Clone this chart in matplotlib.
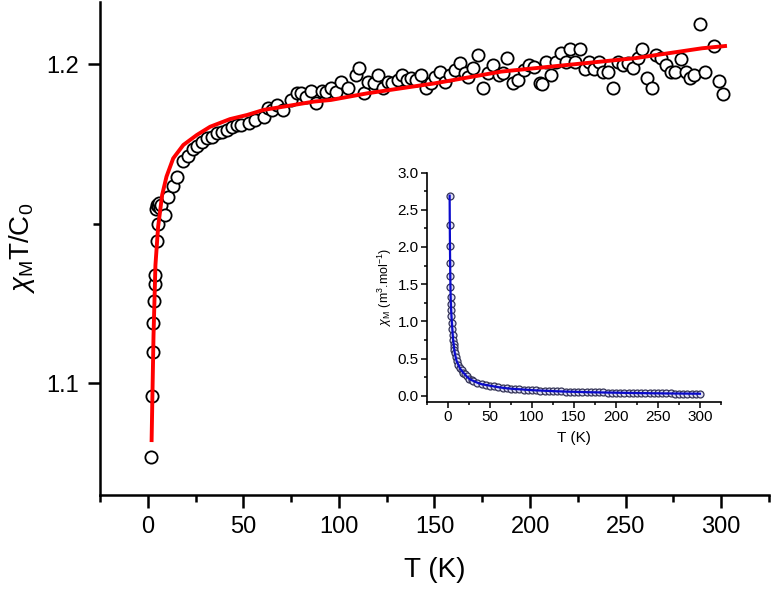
import numpy as np
import matplotlib.pyplot as plt
from matplotlib.ticker import MultipleLocator

plt.rcParams['font.family'] = ['Liberation Sans', 'DejaVu Sans']
plt.rcParams['mathtext.fontset'] = 'custom'
plt.rcParams['mathtext.rm'] = 'Liberation Sans'
plt.rcParams['mathtext.it'] = 'Liberation Sans:italic'

# main panel: chi_M T / C0 measured points
T_data = [1.6, 2.3, 2.6, 2.8, 3.1, 3.7, 3.9, 4.6, 5.4, 4.3, 4.8, 5.3, 5.9, 6.4, 7.0,
          9.0, 10.5, 13.3, 15.4, 18.6, 21.2, 23.5, 25.6, 28.3, 30.9, 33.5, 36.0,
          38.8, 41.4, 44.0, 46.7, 49.0, 52.8, 56.3, 60.7, 62.8, 65.0, 67.7, 71.0,
          74.7, 77.9, 80.0, 82.6, 85.3, 88.0, 91.4, 93.0, 95.8, 98.4, 101.0, 104.6,
          109.0, 110.7, 113.3, 115.0, 118.6, 120.4, 123.0, 125.6, 128.0, 130.9,
          133.0, 135.5, 137.9, 140.5, 143.0, 145.8, 148.4, 150.2, 152.8, 155.4,
          158.0, 160.7, 163.3, 165.9, 167.7, 170.4, 173.0, 175.6, 178.0, 180.8,
          183.5, 186.0, 188.0, 191.0, 193.9, 196.7, 199.3, 202.0, 205.4, 206.0,
          208.4, 211.0, 213.7, 216.0, 218.6, 220.9, 223.5, 226.2, 228.6, 231.0,
          233.5, 236.0, 238.4, 241.0, 243.5, 246.2, 248.4, 251.0, 253.7, 256.3,
          258.6, 261.2, 263.7, 266.0, 268.6, 271.0, 273.5, 276.0, 278.8, 281.4,
          283.5, 286.0, 288.8, 291.4, 296.2, 298.8, 300.8]
chiT_data = [1.0768, 1.0960, 1.1099, 1.1188, 1.1259, 1.1310, 1.1340, 1.1447, 1.1500,
             1.1545, 1.1560, 1.1555, 1.1565, 1.1550, 1.1560,
             1.1528, 1.1585, 1.1619, 1.1648, 1.1697, 1.1713, 1.1733, 1.1744, 1.1757,
             1.1768, 1.1773, 1.1784, 1.1789, 1.1794, 1.1803, 1.1810, 1.1810, 1.1817,
             1.1825, 1.1836, 1.1862, 1.1857, 1.1872, 1.1857, 1.1888, 1.1909, 1.1909,
             1.1898, 1.1917, 1.1878, 1.1917, 1.1914, 1.1925, 1.1914, 1.1945, 1.1925,
             1.1966, 1.1987, 1.1909, 1.1945, 1.1940, 1.1966, 1.1925, 1.1945, 1.1940,
             1.1951, 1.1966, 1.1951, 1.1956, 1.1951, 1.1966, 1.1925, 1.1940, 1.1961,
             1.1977, 1.1945, 1.1966, 1.1982, 1.2003, 1.1972, 1.1961, 1.1987, 1.2029,
             1.1925, 1.1972, 1.1998, 1.1966, 1.1972, 1.2019, 1.1940, 1.1951, 1.1982,
             1.1998, 1.1992, 1.1940, 1.1938, 1.2008, 1.1966, 1.2008, 1.2036, 1.2008,
             1.2047, 1.2008, 1.2047, 1.1984, 1.2008, 1.1984, 1.2008, 1.1977, 1.1977,
             1.1927, 1.2008, 1.1998, 1.2003, 1.1987, 1.2019, 1.2047, 1.1956, 1.1927,
             1.2029, 1.2019, 1.1998, 1.1977, 1.1977, 1.2016, 1.1977, 1.1956, 1.1966,
             1.2126, 1.1977, 1.2057, 1.1948, 1.1907]

# main panel: fit curve
T_fit = [2.0, 3.0, 4.0, 5.4, 7.5, 9.8, 13.3, 18.6, 25.6, 32.6, 43.0, 52.0, 60.7,
         71.0, 87.0, 95.8, 115.0, 150.0, 185.0, 220.0, 255.0, 290.0, 302.0]
chiT_fit = [1.0822, 1.1150, 1.1370, 1.1490, 1.1590, 1.1648, 1.1705, 1.1747, 1.1778,
            1.1804, 1.1828, 1.1841, 1.1857, 1.1867, 1.1883, 1.1888, 1.1909, 1.1940,
            1.1977, 1.1998, 1.2019, 1.2050, 1.2057]

# inset: chi_M vs T
T_in = [1.8, 2.0, 2.2, 2.4, 2.6, 2.8, 3.0, 3.3, 3.6, 4.0, 4.5, 5.0, 5.5, 6.0, 6.5,
        7.0, 7.5, 8.0, 9.0, 10.0, 12.0, 14.0, 16.0, 18.0, 20.0, 22.0, 25.0, 28.0,
        30, 35, 40, 45, 50, 55, 60, 65, 70, 75, 80, 85, 90, 95, 100, 105, 110, 115,
        120, 125, 130, 135, 140, 145, 150, 155, 160, 165, 170, 175, 180, 185, 190,
        195, 200, 205, 210, 215, 220, 225, 230, 235, 240, 245, 250, 255, 260, 265,
        270, 275, 280, 285, 290, 295, 300]
chi_in = [2.69, 2.30, 2.01, 1.79, 1.61, 1.46, 1.33, 1.24, 1.15, 1.07, 0.98, 0.90,
          0.82, 0.75, 0.70, 0.65, 0.61, 0.57, 0.52, 0.47, 0.42, 0.37, 0.34, 0.31,
          0.29, 0.26, 0.23, 0.21,
          0.20, 0.175, 0.155, 0.145, 0.135, 0.125, 0.115, 0.107, 0.100, 0.095, 0.090,
          0.087, 0.083, 0.079, 0.075, 0.072, 0.070, 0.067, 0.065, 0.062, 0.060, 0.058,
          0.056, 0.054, 0.053, 0.051, 0.050, 0.048, 0.047, 0.046, 0.045, 0.044, 0.043,
          0.042, 0.041, 0.040, 0.039, 0.038, 0.037, 0.036, 0.035, 0.035, 0.034, 0.033,
          0.033, 0.032, 0.031, 0.031, 0.030, 0.030, 0.029, 0.029, 0.028, 0.028, 0.027]

fig = plt.figure(figsize=(7.71, 5.89), dpi=100)
ax = fig.add_axes([0.1297, 0.1596, 0.8677, 0.8370])

ax.plot(T_data, chiT_data, 'o', ms=8.8, mfc='white', mec='black', mew=1.3, zorder=2)
ax.plot(T_fit, chiT_fit, '-', color='#ff0000', lw=2.8, zorder=3)

ax.set_xlim(-25, 325)
ax.set_ylim(1.065, 1.2195)
ax.xaxis.set_major_locator(MultipleLocator(50))
ax.xaxis.set_minor_locator(MultipleLocator(25))
ax.yaxis.set_major_locator(MultipleLocator(0.1))
ax.yaxis.set_minor_locator(MultipleLocator(0.05))
ax.yaxis.set_major_formatter(plt.FormatStrFormatter('%.1f'))
for s in ['top', 'right']:
    ax.spines[s].set_visible(False)
for s in ['left', 'bottom']:
    ax.spines[s].set_linewidth(1.8)
ax.tick_params(which='major', direction='out', length=9, width=1.8, labelsize=17, pad=6)
ax.tick_params(which='minor', direction='out', length=5, width=1.8)
ax.set_xlabel('T (K)', fontsize=20, labelpad=14)
ax.set_ylabel('$\\chi_\\mathregular{M}$T/C$_\\mathregular{0}$', fontsize=20, labelpad=7)

# inset
ins = fig.add_axes([0.554, 0.318, 0.381, 0.389])
ins.plot(T_in, chi_in, 'o', ms=5, mfc='#dcdcf5', mec='#333355', mew=0.9, zorder=2)
ins.plot(T_in, chi_in, '-', color='#0a0acc', lw=1.6, zorder=3)
ins.set_xlim(-25, 325)
ins.set_ylim(-0.08, 3.0)
ins.xaxis.set_major_locator(MultipleLocator(50))
ins.xaxis.set_minor_locator(MultipleLocator(25))
ins.yaxis.set_major_locator(MultipleLocator(0.5))
ins.yaxis.set_minor_locator(MultipleLocator(0.25))
ins.yaxis.set_major_formatter(plt.FormatStrFormatter('%.1f'))
for s in ['top', 'right']:
    ins.spines[s].set_visible(False)
for s in ['left', 'bottom']:
    ins.spines[s].set_linewidth(1.2)
ins.tick_params(which='major', direction='out', length=4, width=1.1, labelsize=11, pad=2)
ins.tick_params(which='minor', direction='out', length=2.5, width=1.1)
ins.set_xlabel('T (K)', fontsize=11, labelpad=5)
ins.set_ylabel('$\\chi_\\mathregular{M}$ (m$^\\mathregular{3}$.mol$^\\mathregular{-1}$)', fontsize=9, labelpad=3)

fig.savefig('out.png', dpi=100)
